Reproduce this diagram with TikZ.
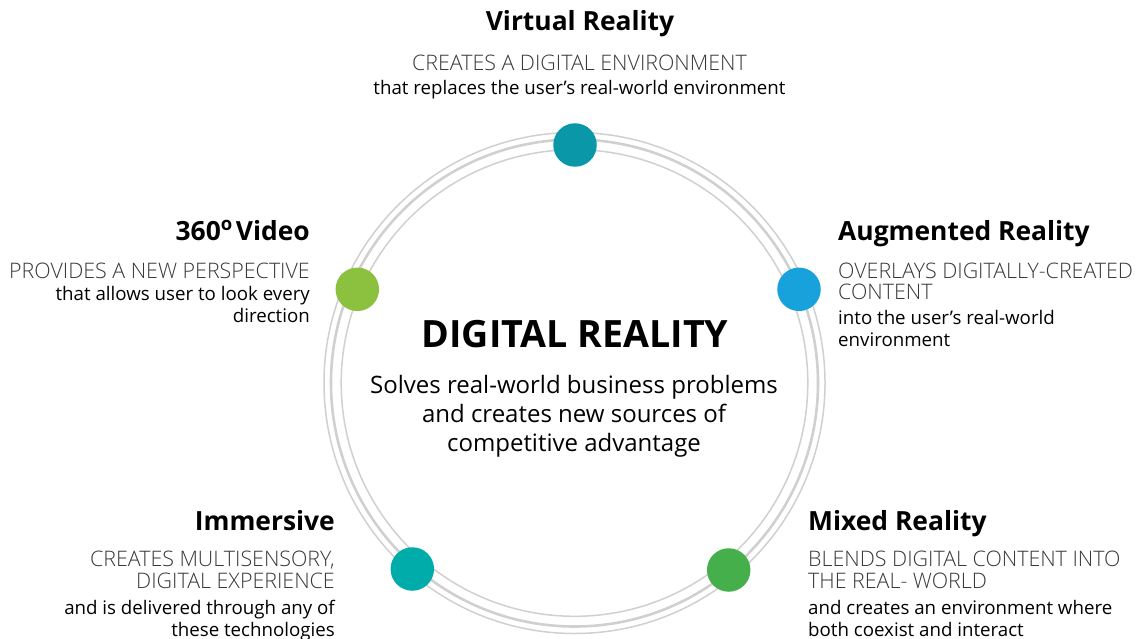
\documentclass[tikz,border=0pt]{standalone}
\usepackage{fontspec}
\setmainfont{Open Sans}
\IfFontExistsTF{Open Sans Light}{\newfontfamily\lightfont{Open Sans Light}}{\newfontfamily\lightfont{Open Sans}}
\definecolor{ringgray}{RGB}{208,208,208}
\definecolor{capgray}{RGB}{55,55,55}
\definecolor{vrteal}{RGB}{10,152,169}
\definecolor{arblue}{RGB}{24,162,220}
\definecolor{mrgreen}{RGB}{69,176,75}
\definecolor{imteal}{RGB}{0,172,169}
\definecolor{vidlime}{RGB}{140,193,63}
\tikzset{
    title/.style={font=\bfseries\fontsize{26.4}{30}\selectfont, inner sep=0pt},
    caps/.style={font=\lightfont\fontsize{21.4}{21.5}\selectfont, text=capgray, inner sep=0pt},
    body/.style={font=\fontsize{18.7}{21.5}\selectfont, inner sep=0pt},
    spot/.style={circle, inner sep=0pt, minimum size=43.5pt}
}
\begin{document}
\begin{tikzpicture}[x=1pt, y=-1pt]
        \useasboundingbox (0,0) rectangle (1139,639);
        \coordinate (hub) at (574.5,383);
        % rings
        \foreach \r/\w in {250.5/1.5, 243.5/2.6, 233.3/1.5}{
            \draw[ringgray, line width=\w pt] (hub) circle[radius=\r pt];
            };
        % spots on the ring
        \node[spot, fill=vrteal] (vr) at (575,145) {};
        \node[spot, fill=arblue] (ar) at (799,289.3) {};
        \node[spot, fill=mrgreen] (mr) at (728.7,570) {};
        \node[spot, fill=imteal] (im) at (412.3,569) {};
        \node[spot, fill=vidlime] (vid) at (357.3,289.3) {};
        % centre (multi-line nodes sit on their last baseline)
        \node[font=\bfseries\fontsize{37.6}{42}\selectfont, inner sep=0pt, anchor=base] (dr title) at (575,347.5) {DIGITAL REALITY};
        \node[font=\fontsize{24}{29}\selectfont, inner sep=0pt, align=center, anchor=base] (dr body) at (574,451)
            {Solves real-world business problems\\and creates new sources of\\competitive advantage};
        % virtual reality
        \node[title, anchor=base] (vr title) at (580,31) {Virtual Reality};
        \node[caps, anchor=base] (vr caps) at (579.5,71) {CREATES A DIGITAL ENVIRONMENT};
        \node[body, anchor=base] (vr body) at (579.5,95) {that replaces the user’s real-world environment};
        % augmented reality
        \node[title, anchor=base west] (ar title) at (838,240) {Augmented Reality};
        \node[caps, anchor=base west, align=left] (ar caps) at (838,299.5) {OVERLAYS DIGITALLY-CREATED\\CONTENT};
        \node[body, anchor=base west, align=left] (ar body) at (838,346) {into the user’s real-world\\environment};
        % mixed reality
        \node[title, anchor=base west] (mr title) at (808,530.5) {Mixed Reality};
        \node[caps, anchor=base west, align=left] (mr caps) at (808,588.3) {BLENDS DIGITAL CONTENT INTO\\THE REAL- WORLD};
        \node[body, anchor=base west, align=left] (mr body) at (808,636) {and creates an environment where\\both coexist and interact};
        % immersive
        \node[title, anchor=base east] (im title) at (335,530.5) {Immersive};
        \node[caps, anchor=base east, align=right] (im caps) at (335,588.3) {CREATES MULTISENSORY,\\DIGITAL EXPERIENCE};
        \node[body, anchor=base east, align=right] (im body) at (335,636) {and is delivered through any of\\these technologies};
        % 360 video
        \node[title, anchor=base east] (vid title) at (310,240) {360\textsuperscript{o}\hspace{0.12em}Video};
        \node[caps, anchor=base east] (vid caps) at (310,278) {PROVIDES A NEW PERSPECTIVE};
        \node[body, anchor=base east, align=right] (vid body) at (310,322) {that allows user to look every\\direction};
    \end{tikzpicture}
\end{document}
